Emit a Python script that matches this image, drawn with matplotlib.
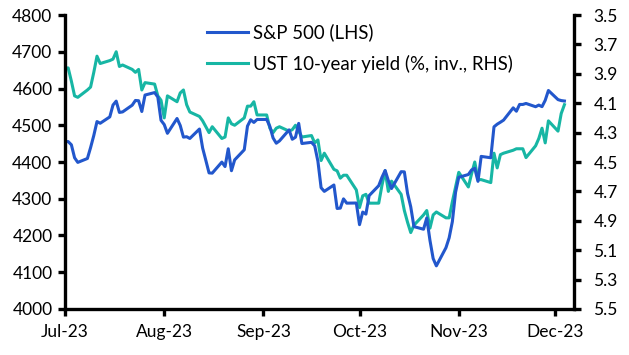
import pandas as pd
import matplotlib
matplotlib.use("Agg")
import matplotlib.pyplot as plt

# business days 3 Jul 2023 - 6 Dec 2023 (holidays carry the previous value)
dates = pd.bdate_range("2023-07-03", "2023-12-06")

spx_jul = [4455.59, 4455.59, 4446.82, 4411.59, 4398.95, 4409.53, 4439.26, 4472.16, 4510.04, 4505.42,
           4522.79, 4554.98, 4565.72, 4534.87, 4536.34, 4554.64, 4567.46, 4566.75, 4537.41, 4582.23, 4588.96]
spx_aug = [4576.73, 4513.39, 4501.89, 4478.03, 4518.44, 4499.38, 4467.71, 4468.83, 4464.05, 4489.72,
           4437.86, 4404.33, 4370.36, 4369.71, 4399.77, 4387.55, 4436.01, 4376.31, 4405.71, 4433.31,
           4497.63, 4514.87, 4507.66]
spx_sep = [4515.77, 4515.77, 4496.83, 4465.48, 4451.14, 4457.49, 4487.46, 4461.90, 4467.44, 4505.10,
           4450.32, 4453.53, 4443.95, 4402.20, 4330.00, 4320.06, 4337.44, 4273.53, 4274.51, 4299.70, 4288.05]
spx_oct = [4288.39, 4229.45, 4263.75, 4258.19, 4308.50, 4335.66, 4358.24, 4376.95, 4349.61, 4327.78,
           4373.63, 4373.20, 4314.60, 4278.00, 4224.16, 4217.04, 4247.68, 4186.77, 4137.23, 4117.37,
           4166.82, 4193.80]
spx_nov = [4237.86, 4317.78, 4358.34, 4365.98, 4378.38, 4382.78, 4347.35, 4415.24, 4411.55, 4495.70,
           4502.88, 4508.24, 4514.02, 4547.38, 4538.19, 4556.62, 4556.62, 4559.34, 4550.43, 4554.89,
           4550.58, 4567.80]
spx_dec = [4594.63, 4569.78, 4567.18, 4566.00]

ust_jul = [3.86, 3.86, 3.95, 4.05, 4.06, 4.01, 3.99, 3.89, 3.78, 3.83, 3.81, 3.80, 3.75, 3.85, 3.84,
           3.87, 3.89, 3.87, 4.01, 3.96, 3.97]
ust_aug = [4.05, 4.08, 4.20, 4.05, 4.09, 4.03, 4.01, 4.11, 4.16, 4.19, 4.22, 4.26, 4.30, 4.26, 4.34,
           4.33, 4.20, 4.24, 4.25, 4.20, 4.12, 4.12, 4.09]
ust_sep = [4.18, 4.18, 4.27, 4.30, 4.27, 4.26, 4.29, 4.28, 4.25, 4.29, 4.33, 4.32, 4.37, 4.35, 4.49,
           4.44, 4.55, 4.56, 4.61, 4.59, 4.59]
ust_oct = [4.69, 4.81, 4.73, 4.72, 4.78, 4.78, 4.66, 4.56, 4.70, 4.63, 4.72, 4.83, 4.91, 4.98, 4.93,
           4.86, 4.83, 4.95, 4.86, 4.84, 4.88, 4.88]
ust_nov = [4.77, 4.67, 4.57, 4.67, 4.58, 4.50, 4.62, 4.62, 4.64, 4.44, 4.54, 4.45, 4.44, 4.42, 4.41,
           4.41, 4.41, 4.47, 4.39, 4.34, 4.27, 4.37]
ust_dec = [4.22, 4.29, 4.17, 4.11]

spx = spx_jul + spx_aug + spx_sep + spx_oct + spx_nov + spx_dec
ust = ust_jul + ust_aug + ust_sep + ust_oct + ust_nov + ust_dec

month_ticks = ["2023-07-03", "2023-08-03", "2023-09-03", "2023-10-03", "2023-11-03", "2023-12-03"]
month_labels = ["Jul-23", "Aug-23", "Sep-23", "Oct-23", "Nov-23", "Dec-23"]

blue = "#2257CC"
teal = "#17B6A4"

plt.rcParams["font.family"] = ["Lato", "DejaVu Sans"]

fig = plt.figure(figsize=(6.29, 3.55), dpi=100)
ax = fig.add_axes([0.1033, 0.1296, 0.8093, 0.8281])
ax2 = ax.twinx()

l1, = ax.plot(dates, spx, color=blue, lw=2.2, label="S&P 500 (LHS)")
l2, = ax2.plot(dates, ust, color=teal, lw=2.2, label="UST 10-year yield (%, inv., RHS)")
ax.set_zorder(ax2.get_zorder() + 1)
ax.patch.set_visible(False)

ax.set_ylim(4000, 4800)
ax.set_yticks(range(4000, 4801, 100))
ax2.set_ylim(5.5, 3.5)
ax2.set_yticks([3.5, 3.7, 3.9, 4.1, 4.3, 4.5, 4.7, 4.9, 5.1, 5.3, 5.5])
ax2.yaxis.set_major_formatter(matplotlib.ticker.FormatStrFormatter("%.1f"))

ax.set_xlim(pd.Timestamp("2023-07-03"), pd.Timestamp("2023-12-09"))
ax.set_xticks(pd.to_datetime(month_ticks))
ax.set_xticklabels(month_labels)

for a in (ax, ax2):
    a.spines["top"].set_visible(False)
    for s in ("left", "right", "bottom"):
        a.spines[s].set_linewidth(2.4)
    a.tick_params(width=2.4, length=5, labelsize=12.5, colors="black")
ax.spines["right"].set_visible(False)
ax2.spines["left"].set_visible(False)
ax2.spines["bottom"].set_visible(False)
ax.tick_params(axis="x", pad=6)
ax.tick_params(axis="y", pad=4)
ax2.tick_params(axis="y", pad=9)

fig.legend([l1, l2], [l1.get_label(), l2.get_label()], loc="upper left",
           bbox_to_anchor=(0.302, 0.982), frameon=False, fontsize=13.4,
           handlelength=2.2, handletextpad=0.3, labelspacing=0.72)

fig.savefig("out.png", dpi=100)
